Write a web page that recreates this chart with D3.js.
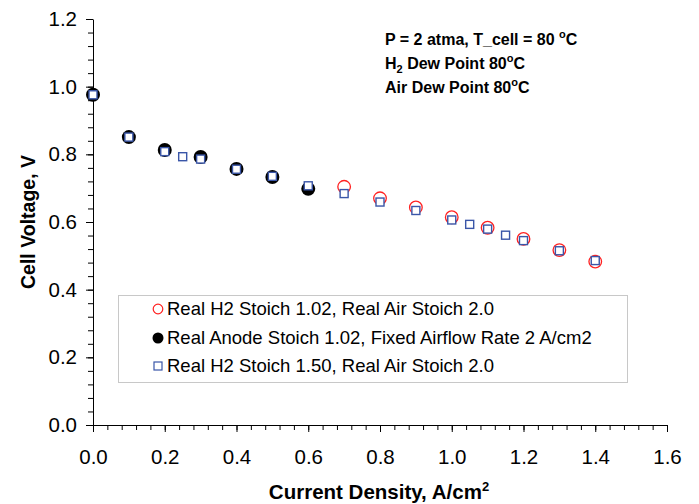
<!DOCTYPE html>
<html>
<head>
<meta charset="utf-8">
<script src="https://cdn.jsdelivr.net/npm/d3@7"></script>
<style>
  body { margin: 0; background: #fff; }
  text { font-family: Arial, "Liberation Sans", sans-serif; }
</style>
</head>
<body>
<div id="chart"></div>
<script>
// readings from the figure
const redX = [0.7, 0.8, 0.9, 1.0, 1.1, 1.2, 1.3, 1.4]
const redY = [0.704, 0.670, 0.643, 0.614, 0.583, 0.550, 0.517, 0.483]

const blackX = [0, 0.1, 0.2, 0.3, 0.4, 0.5, 0.6]
const blackY = [0.976, 0.851, 0.813, 0.792, 0.757, 0.733, 0.698]

const blueX = [0, 0.1, 0.2, 0.25, 0.3, 0.4, 0.5, 0.6, 0.7, 0.8, 0.9, 1.0, 1.05, 1.1, 1.15, 1.2, 1.3, 1.4]
const blueY = [0.976, 0.851, 0.808, 0.793, 0.786, 0.756, 0.735, 0.707, 0.684, 0.659, 0.634, 0.606, 0.593, 0.579, 0.561, 0.545, 0.515, 0.486]

const legendLabels = [
  "Real H2 Stoich 1.02, Real Air Stoich 2.0",
  "Real Anode Stoich 1.02, Fixed Airflow Rate 2 A/cm2",
  "Real H2 Stoich 1.50, Real Air Stoich 2.0"
]

const xTicks = [0, 0.2, 0.4, 0.6, 0.8, 1.0, 1.2, 1.4, 1.6]
const yTicks = [0, 0.2, 0.4, 0.6, 0.8, 1.0, 1.2]

const width = 699, height = 504
const margin = {top: 19, right: 32, bottom: 79, left: 93}

const x = d3.scaleLinear().domain([0, 1.6]).range([margin.left, width - margin.right])
const y = d3.scaleLinear().domain([0, 1.2]).range([height - margin.bottom, margin.top])

const svg = d3.select('#chart').append('svg')
  .attr('width', width)
  .attr('height', height)

// minor ticks
svg.append('g')
  .attr('transform', `translate(0,${y(0)})`)
  .call(d3.axisBottom(x).tickValues(d3.range(0, 1.601, 0.04)).tickSize(5).tickFormat(''))
  .call(g => g.select('.domain').remove())

svg.append('g')
  .attr('transform', `translate(${x(0)},0)`)
  .call(d3.axisLeft(y).tickValues(d3.range(0, 1.201, 0.04)).tickSize(5).tickFormat(''))
  .call(g => g.select('.domain').remove())

// major ticks + labels
svg.append('g')
  .attr('transform', `translate(0,${y(0)})`)
  .call(d3.axisBottom(x).tickValues(xTicks).tickSize(7).tickSizeOuter(0).tickFormat(d3.format('.1f')))
  .call(g => g.selectAll('text').attr('dy', 29).attr('fill', '#000'))
  .call(g => g.selectAll('line, path').attr('stroke', '#000'))

svg.append('g')
  .attr('transform', `translate(${x(0)},0)`)
  .call(d3.axisLeft(y).tickValues(yTicks).tickSize(7).tickSizeOuter(0).tickFormat(d3.format('.1f')))
  .call(g => g.selectAll('text').attr('dx', -6).attr('fill', '#000'))
  .call(g => g.selectAll('line, path').attr('stroke', '#000'))

svg.selectAll('.tick text')
  .style('font-family', 'Arial, "Liberation Sans", sans-serif')
  .style('font-size', '20.5px')

// axis titles
svg.append('text')
  .attr('x', 379).attr('y', 499)
  .attr('text-anchor', 'middle')
  .attr('font-size', 20.5).attr('font-weight', 'bold')
  .text('Current Density, A/cm')
  .append('tspan').attr('dy', -8).attr('font-size', 13).text('2')

svg.append('text')
  .attr('transform', 'translate(35,222) rotate(-90)')
  .attr('text-anchor', 'middle')
  .attr('font-size', 19.5).attr('font-weight', 'bold')
  .text('Cell Voltage, V')

// annotation
const note = svg.append('g').attr('font-size', 16).attr('font-weight', 'bold')
const n1 = note.append('text').attr('x', 385).attr('y', 45)
n1.append('tspan').text('P = 2 atma, T_cell = 80 ')
n1.append('tspan').attr('dy', -7).attr('font-size', 11).text('o')
n1.append('tspan').attr('dy', 7).text('C')
const n2 = note.append('text').attr('x', 385).attr('y', 69)
n2.append('tspan').text('H')
n2.append('tspan').attr('dy', 4).attr('font-size', 11).text('2')
n2.append('tspan').attr('dy', -4).text(' Dew Point 80')
n2.append('tspan').attr('dy', -7).attr('font-size', 11).text('o')
n2.append('tspan').attr('dy', 7).text('C')
const n3 = note.append('text').attr('x', 385).attr('y', 93)
n3.append('tspan').text('Air Dew Point 80')
n3.append('tspan').attr('dy', -7).attr('font-size', 11).text('o')
n3.append('tspan').attr('dy', 7).text('C')

// series
const red = redX.map((d, i) => ({x: d, y: redY[i]}))
const black = blackX.map((d, i) => ({x: d, y: blackY[i]}))
const blue = blueX.map((d, i) => ({x: d, y: blueY[i]}))

svg.append('g').selectAll('circle').data(red).join('circle')
  .attr('cx', d => x(d.x)).attr('cy', d => y(d.y)).attr('r', 6.3)
  .attr('fill', 'none').attr('stroke', '#ff2020').attr('stroke-width', 1.3)

svg.append('g').selectAll('circle').data(black).join('circle')
  .attr('cx', d => x(d.x)).attr('cy', d => y(d.y)).attr('r', 7)
  .attr('fill', '#000')

const sq = 8
svg.append('g').selectAll('rect').data(blue).join('rect')
  .attr('x', d => x(d.x) - sq / 2).attr('y', d => y(d.y) - sq / 2)
  .attr('width', sq).attr('height', sq)
  .attr('fill', '#fff').attr('stroke', '#3a56a8').attr('stroke-width', 1.4)

// legend
const legend = svg.append('g')
legend.append('rect')
  .attr('x', 118.5).attr('y', 295.5).attr('width', 509).attr('height', 87)
  .attr('fill', '#fff').attr('stroke', '#c8c8c8')

const rowY = [309, 338, 366]
legend.append('circle').attr('cx', 158).attr('cy', rowY[0]).attr('r', 4.8)
  .attr('fill', 'none').attr('stroke', '#ff2020').attr('stroke-width', 1.2)
legend.append('circle').attr('cx', 158).attr('cy', rowY[1]).attr('r', 5.5).attr('fill', '#000')
legend.append('rect').attr('x', 154).attr('y', rowY[2] - 4).attr('width', 8).attr('height', 8)
  .attr('fill', '#fff').attr('stroke', '#3a56a8').attr('stroke-width', 1.2)

legend.selectAll('text.lab').data(legendLabels).join('text')
  .attr('class', 'lab')
  .attr('x', 167).attr('y', (d, i) => rowY[i] + 6)
  .attr('font-size', 18.5)
  .text(d => d)
</script>
</body>
</html>
